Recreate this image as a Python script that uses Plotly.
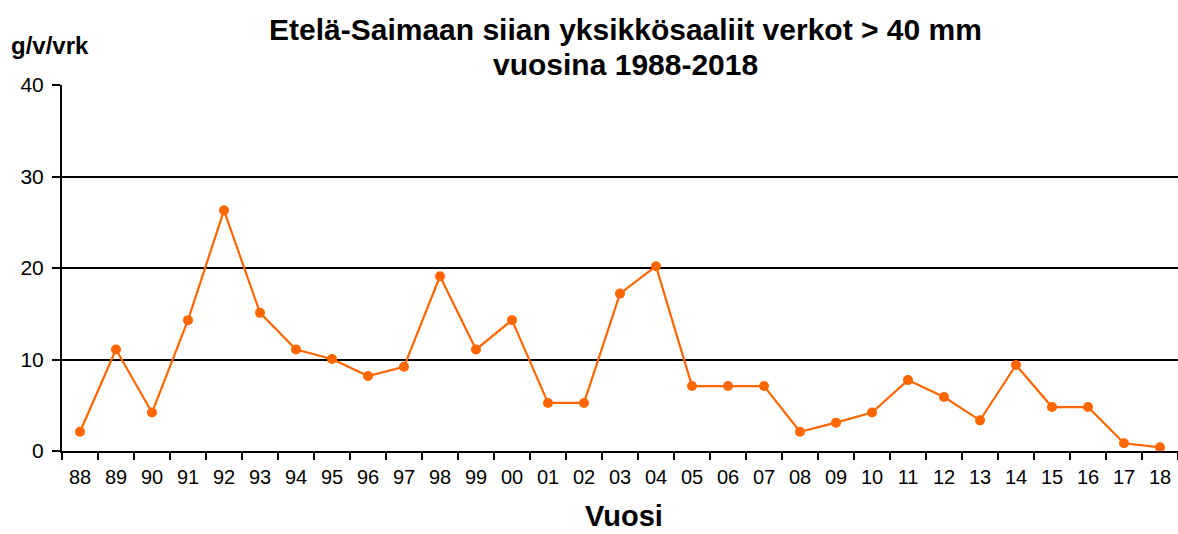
import plotly.graph_objects as go

years = ["88","89","90","91","92","93","94","95","96","97","98","99","00","01","02",
         "03","04","05","06","07","08","09","10","11","12","13","14","15","16","17","18"]
values = [2.1, 11.1, 4.2, 14.3, 26.3, 15.1, 11.1, 10.05, 8.2, 9.2, 19.1, 11.1, 14.3, 5.25, 5.25,
          17.2, 20.2, 7.1, 7.1, 7.1, 2.1, 3.1, 4.2, 7.75, 5.9, 3.35, 9.4, 4.8, 4.8, 0.85, 0.4]
y_ticks = [0, 10, 20, 30, 40]

FONT = "Liberation Sans, Arial, sans-serif"
ORANGE = "#FF6600"

W, H = 1178, 534
L, R, T, B = 62, 0, 85, 83
PW, PH = W - L - R, H - T - B

def px(xp):
    return (xp - L) / PW

def py(yp):
    return (H - B - yp) / PH

fig = go.Figure()
fig.add_trace(go.Scatter(
    x=years, y=values, mode="lines+markers",
    line=dict(color=ORANGE, width=2.2),
    marker=dict(color=ORANGE, size=10),
    showlegend=False,
))

fig.update_layout(
    width=W, height=H,
    margin=dict(l=L, r=R, t=T, b=B),
    paper_bgcolor="white", plot_bgcolor="white",
    font=dict(family=FONT, color="black"),
)

fig.update_xaxes(
    type="category", tickson="boundaries",
    ticks="outside", ticklen=7, tickwidth=1.5, tickcolor="black",
    showline=True, linecolor="black", linewidth=2,
    showgrid=False,
    tickfont=dict(size=20, family=FONT, color="black"),
    ticklabelstandoff=7,
    range=[-0.5, 30.5],
)
fig.update_yaxes(
    range=[0, 40], tickvals=y_ticks,
    ticks="outside", ticklen=8, tickwidth=1.5, tickcolor="black",
    showline=True, linecolor="black", linewidth=2,
    showgrid=True, gridcolor="black", gridwidth=1.5,
    zeroline=False,
    ticklabelstandoff=4,
    tickfont=dict(size=21, family=FONT, color="black"),
)

def txt(text, x, y, size, xanchor="center"):
    fig.add_annotation(
        text=text, xref="paper", yref="paper", x=x, y=y,
        xanchor=xanchor, yanchor="middle", showarrow=False,
        font=dict(size=size, family=FONT, color="black"),
    )

txt("<b>Etelä-Saimaan siian yksikkösaaliit verkot > 40 mm</b>", px(625), py(29), 30)
txt("<b>vuosina 1988-2018</b>", px(625), py(64), 30)
txt("<b>g/v/vrk</b>", px(9), py(45), 24, xanchor="left")
txt("<b>Vuosi</b>", px(624), py(516), 29)

fig.write_html("out.html", config={"displayModeBar": False},
               post_script="document.body.style.margin='0';")
